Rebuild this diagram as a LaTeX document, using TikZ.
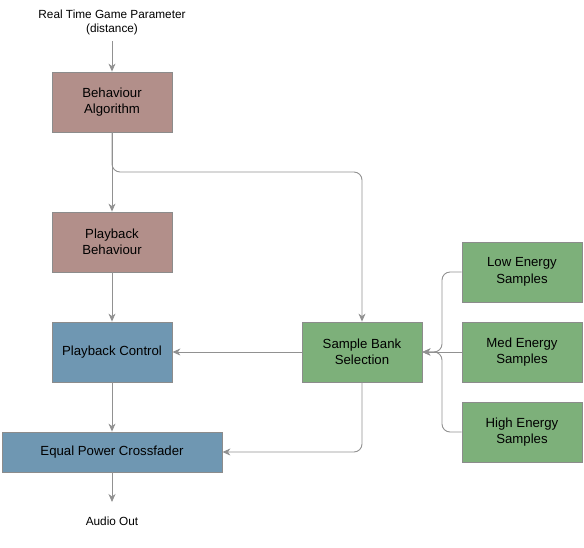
\documentclass[tikz,border=0pt]{standalone}
\usepackage{fontspec}
\setmainfont{Liberation Sans}
\usetikzlibrary{arrows.meta}
\definecolor{brownbox}{RGB}{178,143,138}
\definecolor{bluebox}{RGB}{111,151,178}
\definecolor{greenbox}{RGB}{125,176,122}
\definecolor{edgegray}{RGB}{140,140,140}
\definecolor{linegray}{RGB}{145,145,145}
\begin{document}
\begin{tikzpicture}[x=1pt,y=-1pt,
  box/.style={draw=edgegray,line width=0.8pt,minimum width=120pt,minimum height=60pt,align=center,font=\fontsize{13.2}{16.5}\selectfont,inner sep=0pt},
  brownb/.style={box,fill=brownbox},
  blueb/.style={box,fill=bluebox},
  greenb/.style={box,fill=greenbox},
  lbl/.style={align=center,font=\fontsize{11.8}{14.5}\selectfont,inner sep=0pt},
  conn/.style={draw=linegray,line width=0.9pt,-{Stealth[length=8pt,width=7pt,inset=2.5pt]},rounded corners=8pt},
  plain/.style={draw=linegray,line width=0.9pt,rounded corners=8pt}]
\useasboundingbox (0,0) rectangle (584,547);
\node[lbl] (param) at (112,22.5) {Real Time Game Parameter\\(distance)};
\node[brownb] (ba) at (112,102) {Behaviour\\Algorithm};
\node[brownb] (pb) at (112,242) {Playback\\Behaviour};
\node[blueb] (pc) at (112,352) {Playback Control};
\node[blueb,minimum width=220pt,minimum height=40pt] (epc) at (112,452) {Equal Power Crossfader};
\node[greenb] (sbs) at (362,352) {Sample Bank\\Selection};
\node[greenb] (low) at (522,272) {Low Energy\\Samples};
\node[greenb] (med) at (522,352) {Med Energy\\Samples};
\node[greenb] (high) at (522,432) {High Energy\\Samples};
\node[lbl] (out) at (112,521.5) {Audio Out};
\coordinate (ptop) at (112,41);
\coordinate (pout) at (112,502);
\coordinate (turn1) at (112,172);
\coordinate (turn2) at (362,172);
\coordinate (turn3) at (362,452);
\coordinate (joinL) at (442,272);
\coordinate (joinH) at (442,432);
\coordinate (joinM) at (442,352);
\draw[conn] (ptop) -- (ba.north);
\draw[conn] (ba.south) -- (pb.north);
\draw[conn] (ba.south) -- (turn1) -- (turn2) -- (sbs.north);
\draw[conn] (pb.south) -- (pc.north);
\draw[conn] (sbs.west) -- (pc.east);
\draw[conn] (pc.south) -- (epc.north);
\draw[conn] (sbs.south) -- (turn3) -- (epc.east);
\draw[conn] (epc.south) -- (pout);
\draw[conn] (low.west) -- (joinL) -- (joinM) -- (sbs.east);
\draw[conn] (high.west) -- (joinH) -- (joinM) -- (sbs.east);
\draw[conn] (med.west) -- (sbs.east);
\end{tikzpicture}
\end{document}
